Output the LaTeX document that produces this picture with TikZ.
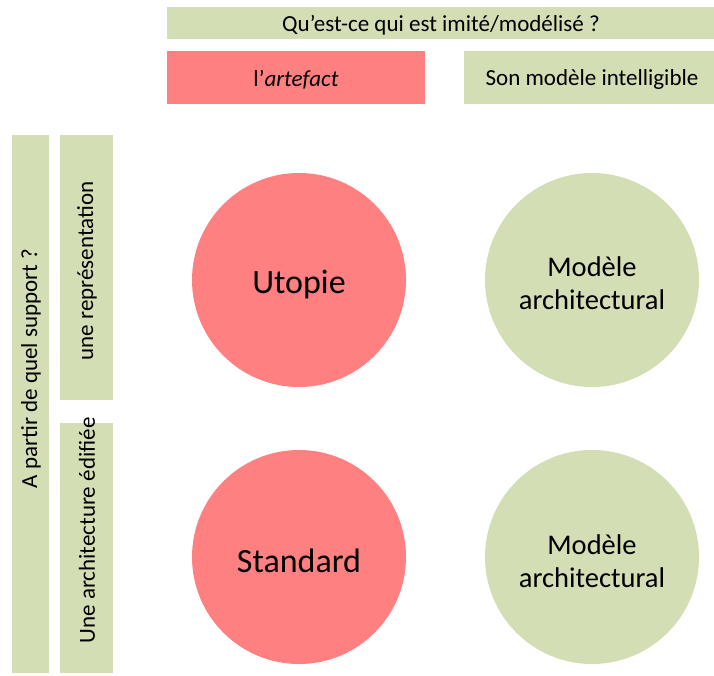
\documentclass[tikz,border=0pt]{standalone}
\usepackage{fontspec}
\setmainfont{Carlito}
\definecolor{lgreen}{RGB}{211,222,180}
\definecolor{lred}{RGB}{255,128,128}
\tikzset{
  gbox/.style={fill=lgreen, draw=none, inner sep=0pt},
  rbox/.style={fill=lred, draw=none, inner sep=0pt},
  smalltxt/.style={font=\fontsize{23}{28}\selectfont, text=black, inner sep=0pt},
  circ/.style={circle, draw=none, minimum size=214pt, inner sep=0pt},
  bigtxt/.style={font=\fontsize{34}{40}\selectfont, text=black, inner sep=0pt},
  modtxt/.style={font=\fontsize{28.5}{33}\selectfont, text=black, inner sep=0pt, align=center},
}
\begin{document}
\begin{tikzpicture}[x=1pt,y=-1pt]
\useasboundingbox (0,0) rectangle (714,675);
% top headers
\node[gbox, minimum width=547pt, minimum height=32pt] (qhead) at (440.5,23) {};
\node[smalltxt] (qheadtxt) at (441,25) {Qu’est-ce qui est imité/modélisé ?};
\node[rbox, minimum width=258pt, minimum height=53pt] (artef) at (296,77.5) {};
\node[smalltxt] (arteftxt) at (296,79.5) {l’\textit{artefact}};
\node[gbox, minimum width=250pt, minimum height=53pt] (intel) at (589,77.5) {};
\node[smalltxt] (inteltxt) at (592,79.5) {Son modèle intelligible};
% left bars
\node[gbox, minimum width=37pt, minimum height=538pt] (support) at (30.5,404) {};
\node[smalltxt, rotate=90] (supporttxt) at (31,368.5) {A partir de quel support ?};
\node[gbox, minimum width=53pt, minimum height=265pt] (repr) at (86.5,267.5) {};
\node[smalltxt, rotate=90] (reprtxt) at (87,271) {une représentation};
\node[gbox, minimum width=53pt, minimum height=250pt] (edif) at (86.5,548) {};
\node[smalltxt, rotate=90] (ediftxt) at (87,530.5) {Une architecture édifiée};
% circles
\node[circ, fill=lred] (utopie) at (299,280) {};
\node[bigtxt] (utopietxt) at ([yshift=-5pt]utopie.center) {Utopie};
\node[circ, fill=lgreen] (modA) at (592,280) {};
\node[modtxt] (modAtxt) at ([yshift=-3pt]modA.center) {Modèle\\architectural};
\node[circ, fill=lred] (standard) at (299,557) {};
\node[bigtxt] (standardtxt) at ([yshift=-4pt]standard.center) {Standard};
\node[circ, fill=lgreen] (modB) at (592,557) {};
\node[modtxt] (modBtxt) at ([yshift=-4pt]modB.center) {Modèle\\architectural};
\end{tikzpicture}
\end{document}
